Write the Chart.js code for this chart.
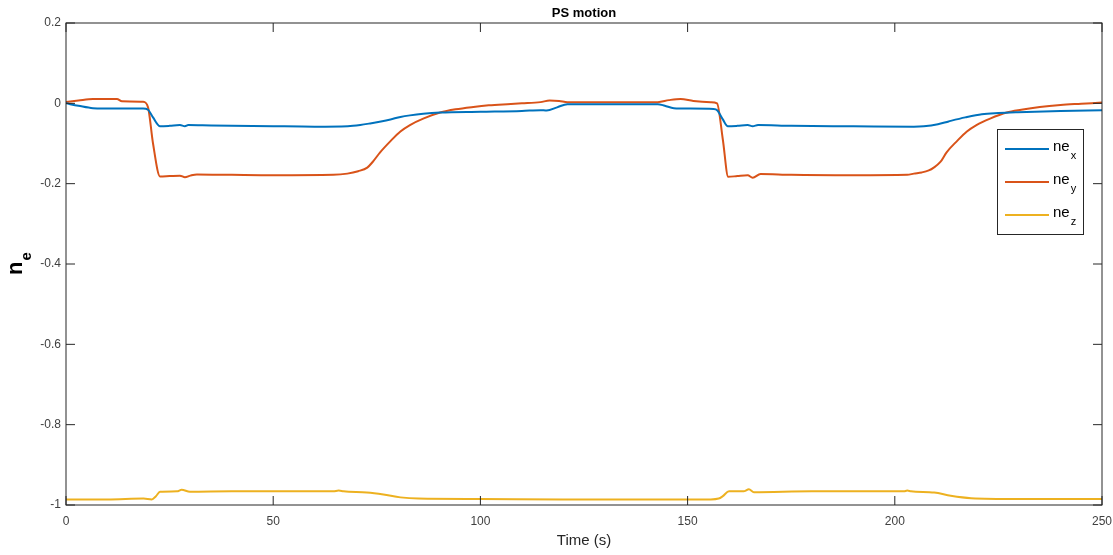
<!DOCTYPE html>
<html>
<head>
<meta charset="utf-8">
<title>PS motion</title>
<script src="https://cdn.jsdelivr.net/npm/chart.js@4.4.1/dist/chart.umd.min.js"></script>
<style>
  html, body { margin: 0; padding: 0; background: #ffffff; }
  #wrap { width: 1113px; height: 555px; }
</style>
</head>
<body>
<div id="wrap"><canvas id="c" width="1113" height="555"></canvas></div>
<script>
// ---- data -------------------------------------------------------------
const seriesLabels = ['ne_x', 'ne_y', 'ne_z'];
const seriesColors = ['#0072BD', '#D95319', '#EDB120'];

const xTicks = [0, 50, 100, 150, 200, 250];
const yTicks = [0.2, 0, -0.2, -0.4, -0.6, -0.8, -1];

// ne_x
const tX = [0, 3, 6.5, 12, 18.6, 19.8, 21, 22.7, 25, 27.5, 28.7, 29.5, 35, 50, 60, 68, 71, 73.4, 76, 78.3,
  80.7, 83, 86.2, 90.3, 100, 110, 114.5, 116, 118.5, 121, 130, 142.8, 144.5, 146.7, 150, 156.3, 157.2,
  158.5, 159.7, 162, 164.5, 165.7, 167, 175, 190, 204.6, 207, 210.4, 213, 217, 221, 225, 229.7, 240, 250];
const neX = [0, -0.006, -0.012, -0.013, -0.013, -0.016, -0.035, -0.057, -0.056, -0.054, -0.057, -0.054,
  -0.055, -0.057, -0.058, -0.057, -0.054, -0.050, -0.045, -0.040, -0.034, -0.030, -0.026, -0.023, -0.021,
  -0.019, -0.017, -0.018, -0.010, -0.002, -0.002, -0.002, -0.006, -0.012, -0.013, -0.014, -0.018, -0.040,
  -0.057, -0.056, -0.054, -0.057, -0.054, -0.056, -0.057, -0.058, -0.057, -0.052, -0.045, -0.035, -0.027,
  -0.024, -0.022, -0.019, -0.017];

// ne_y
const tY = [0, 3, 6.5, 12.3, 13.5, 18.6, 19.8, 21, 22.7, 25, 27.5, 28.7, 30, 31.6, 40, 50, 64.5, 67.9,
  70.5, 72.7, 74, 75.8, 78.3, 80.7, 83, 86.2, 90.3, 94, 98.3, 102, 106.5, 110, 114.5, 116.7, 119, 121,
  142.8, 145.5, 148.3, 151.4, 155.6, 157.1, 158.5, 159.8, 162, 164.5, 165.7, 167.6, 175, 190, 203, 204.6,
  206.5, 208.2, 209.4, 211, 212.5, 215, 217.4, 219.7, 223, 227, 230.5, 235, 240, 245, 250];
const neY = [0.003, 0.007, 0.011, 0.011, 0.005, 0.004, -0.010, -0.100, -0.182, -0.181, -0.180, -0.184,
  -0.180, -0.177, -0.178, -0.179, -0.178, -0.175, -0.169, -0.160, -0.146, -0.122, -0.094, -0.070, -0.054,
  -0.038, -0.023, -0.015, -0.009, -0.005, -0.002, 0.000, 0.003, 0.007, 0.006, 0.003, 0.003, 0.008, 0.011,
  0.006, 0.003, 0.000, -0.090, -0.183, -0.181, -0.179, -0.185, -0.176, -0.178, -0.179, -0.178, -0.175,
  -0.172, -0.167, -0.160, -0.146, -0.122, -0.094, -0.070, -0.054, -0.038, -0.023, -0.016, -0.009, -0.004,
  -0.001, 0.002];

// ne_z
const tZ = [0, 10, 18.7, 20.7, 21.7, 22.7, 26.8, 27.9, 29.9, 40, 50, 64.5, 65.8, 67, 72.6, 76.6, 80.7, 85,
  100, 120, 140, 155.6, 157.5, 158.5, 160, 163.5, 164.8, 166, 180, 202.2, 203, 203.9, 209.5, 213.5, 218.4,
  229.7, 250];
const neZ = [-0.986, -0.986, -0.984, -0.986, -0.978, -0.967, -0.966, -0.962, -0.967, -0.966, -0.966,
  -0.966, -0.964, -0.966, -0.969, -0.974, -0.981, -0.984, -0.985, -0.986, -0.986, -0.986, -0.984, -0.978,
  -0.966, -0.966, -0.961, -0.968, -0.966, -0.966, -0.964, -0.966, -0.969, -0.977, -0.983, -0.985, -0.985];

// ---- helpers ----------------------------------------------------------
const toPoints = (ts, vs) => ts.map((t, i) => ({ x: t, y: vs[i] }));
const seriesData = [toPoints(tX, neX), toPoints(tY, neY), toPoints(tZ, neZ)];

const AXIS_COLOR = '#262626';
const TICK_COLOR = '#404040';
const FONT = '"Liberation Sans", Arial, Helvetica, sans-serif';

// Draws text like "ne_x" as base text followed by a lowered, smaller subscript.
function drawSubText(ctx, label, x, y, baseFont, subFont, subDrop) {
  const [base, sub] = label.split('_');
  ctx.font = baseFont;
  ctx.fillText(base, x, y);
  const w = ctx.measureText(base).width;
  if (sub) {
    ctx.font = subFont;
    ctx.fillText(sub, x + w + 1, y + subDrop);
  }
}

// Box around the plot, inward tick marks on all four sides, title, y label and legend.
const framePlugin = {
  id: 'frame',
  afterDraw(chart) {
    const { ctx, chartArea: a, scales } = chart;
    ctx.save();
    ctx.strokeStyle = AXIS_COLOR;
    ctx.lineWidth = 1;
    ctx.strokeRect(a.left, a.top, a.right - a.left, a.bottom - a.top);
    const tl = 9;
    ctx.beginPath();
    scales.x.ticks.forEach(t => {
      const px = scales.x.getPixelForValue(t.value);
      ctx.moveTo(px, a.bottom); ctx.lineTo(px, a.bottom - tl);
      ctx.moveTo(px, a.top); ctx.lineTo(px, a.top + tl);
    });
    scales.y.ticks.forEach(t => {
      const py = scales.y.getPixelForValue(t.value);
      ctx.moveTo(a.left, py); ctx.lineTo(a.left + tl, py);
      ctx.moveTo(a.right, py); ctx.lineTo(a.right - tl, py);
    });
    ctx.stroke();

    // title
    ctx.fillStyle = '#000000';
    ctx.font = 'bold 13px ' + FONT;
    ctx.textAlign = 'center';
    ctx.textBaseline = 'middle';
    ctx.fillText('PS motion', (a.left + a.right) / 2, a.top - 10);

    // y axis label n_e (rotated)
    ctx.save();
    ctx.translate(22, (a.top + a.bottom) / 2 + 11);
    ctx.rotate(-Math.PI / 2);
    ctx.textAlign = 'left';
    ctx.textBaseline = 'alphabetic';
    ctx.fillStyle = '#000000';
    drawSubText(ctx, 'n_e', 0, 0, 'bold 22px ' + FONT, 'bold 15px ' + FONT, 9);
    ctx.restore();

    // legend
    const bx = a.right - 105, by = a.top + 106, bw = 86, bh = 105;
    ctx.fillStyle = '#ffffff';
    ctx.fillRect(bx, by, bw, bh);
    ctx.strokeStyle = AXIS_COLOR;
    ctx.lineWidth = 1;
    ctx.strokeRect(bx + 0.5, by + 0.5, bw, bh);
    chart.data.datasets.forEach((ds, i) => {
      const ry = by + 20 + i * 33;
      ctx.strokeStyle = ds.borderColor;
      ctx.lineWidth = 2;
      ctx.beginPath();
      ctx.moveTo(bx + 8, ry); ctx.lineTo(bx + 52, ry);
      ctx.stroke();
      ctx.fillStyle = '#000000';
      ctx.textAlign = 'left';
      ctx.textBaseline = 'middle';
      drawSubText(ctx, ds.label, bx + 56, ry - 2, '15px ' + FONT, '11px ' + FONT, 9);
    });
    ctx.restore();
  }
};

new Chart(document.getElementById('c'), {
  type: 'line',
  data: {
    datasets: seriesLabels.map((lbl, i) => ({
      label: lbl,
      data: seriesData[i],
      borderColor: seriesColors[i],
      backgroundColor: seriesColors[i],
      borderWidth: 2,
      pointRadius: 0,
      cubicInterpolationMode: 'monotone',
      fill: false
    }))
  },
  options: {
    responsive: false,
    animation: false,
    devicePixelRatio: 1,
    layout: { padding: { top: 23, right: 11, left: 0, bottom: 0 } },
    plugins: {
      legend: { display: false },
      title: { display: false },
      tooltip: { enabled: false }
    },
    scales: {
      x: {
        type: 'linear',
        min: 0,
        max: 250,
        afterBuildTicks: s => { s.ticks = xTicks.map(v => ({ value: v })); },
        afterFit: s => { s.height = 50; s.paddingLeft = 0; s.paddingRight = 0; },
        grid: { display: false, drawTicks: false },
        border: { display: false },
        ticks: {
          padding: 9,
          color: TICK_COLOR,
          font: { family: FONT, size: 12 },
          callback: v => String(v)
        },
        title: {
          display: true,
          text: 'Time (s)',
          color: AXIS_COLOR,
          font: { family: FONT, size: 15 },
          padding: { top: 0, bottom: 5 }
        }
      },
      y: {
        type: 'linear',
        min: -1,
        max: 0.2,
        afterBuildTicks: s => { s.ticks = yTicks.map(v => ({ value: v })); },
        afterFit: s => { s.width = 66; s.paddingTop = 0; s.paddingBottom = 0; },
        grid: { display: false, drawTicks: false },
        border: { display: false },
        ticks: {
          padding: 5,
          color: TICK_COLOR,
          font: { family: FONT, size: 12 },
          callback: v => String(Math.round(v * 10) / 10)
        }
      }
    }
  },
  plugins: [framePlugin]
});
</script>
</body>
</html>
